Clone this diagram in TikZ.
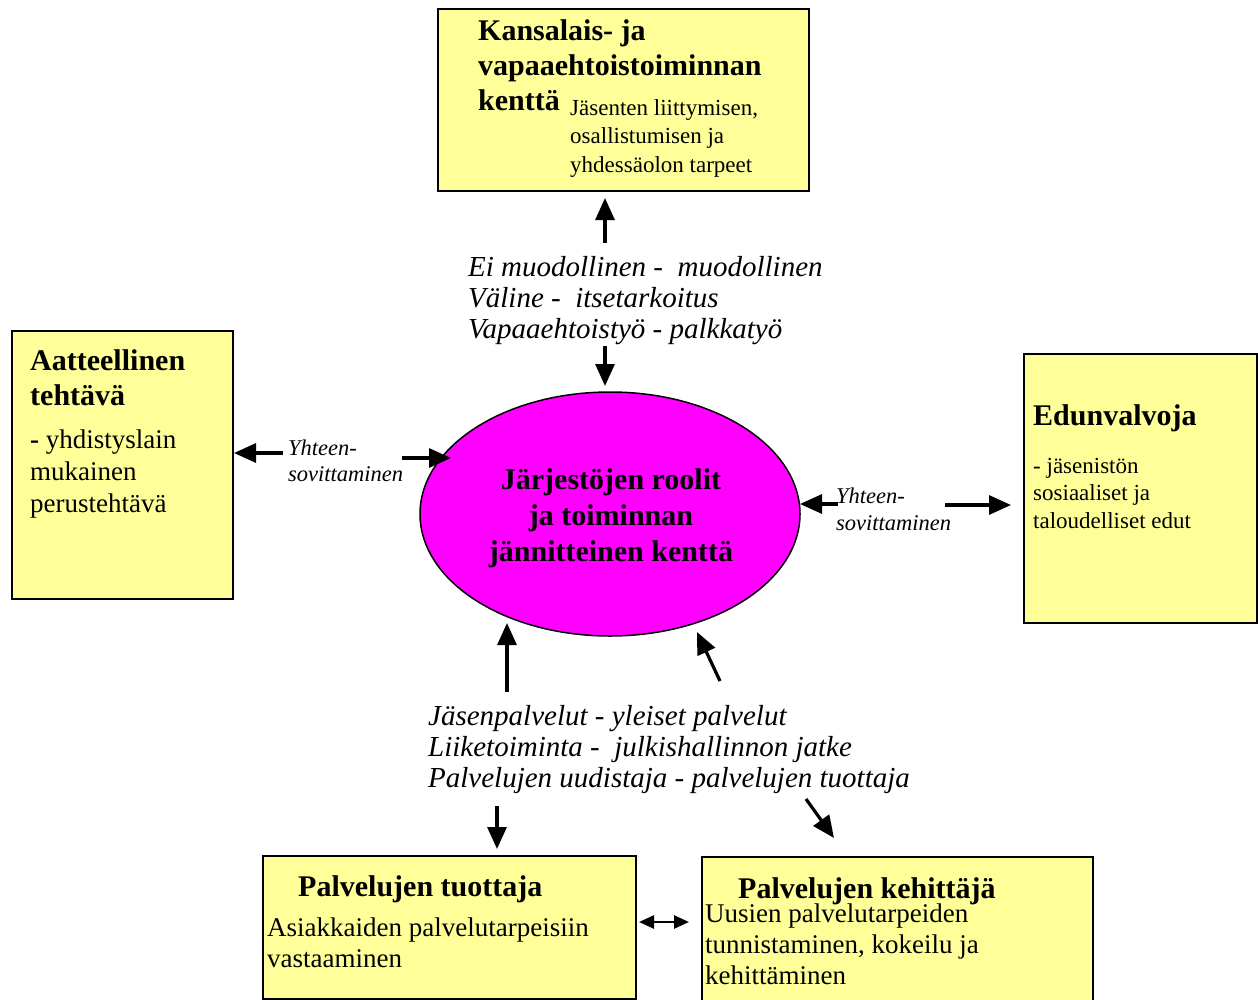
\documentclass[tikz,border=0pt]{standalone}
\usepackage{fontspec}
\setmainfont{Liberation Serif}
\usetikzlibrary{arrows.meta,shapes.geometric}
\definecolor{paleyellow}{HTML}{FFFF99}
\definecolor{hotmagenta}{HTML}{FF00FF}

\begin{document}
\begin{tikzpicture}[x=1pt,y=-1pt,
  panel/.style={draw=black,line width=1.6pt,fill=paleyellow,anchor=north west,inner sep=0pt},
  txt/.style={anchor=base west,inner sep=0pt,align=left},
  headline/.style={txt,font=\fontsize{30}{35}\selectfont\bfseries},
  flow/.style={line width=3.2pt,-{Triangle[length=22pt,width=19pt]}},
  swap/.style={line width=2.6pt,{Triangle[length=15pt,width=13pt]}-{Triangle[length=15pt,width=13pt]}}
]
\useasboundingbox (0,0) rectangle (1258,999);

% boxes
\node[panel,minimum width=371pt,minimum height=182pt] (civic) at (437,8) {};
\node[panel,minimum width=221pt,minimum height=268pt] (ideal) at (11,330) {};
\node[panel,minimum width=233pt,minimum height=269pt] (advocate) at (1023,353) {};
\node[panel,minimum width=373pt,minimum height=143pt] (producer) at (262,855) {};
\node[panel,minimum width=391pt,minimum height=150pt] (developer) at (701,856) {};

% central field (multi-line nodes are placed by the baseline of their last line)
\node[ellipse,draw=black,line width=1.5pt,fill=hotmagenta,minimum width=380pt,minimum height=244pt] (field) at (610,514) {};
\node[anchor=base,inner sep=0pt,align=center,font=\fontsize{30}{36}\selectfont\bfseries] (fieldtxt) at (611,561)
  {Järjestöjen roolit\\ja toiminnan\\jännitteinen kenttä};

% box texts
\node[headline] (civicT) at (478,110) {Kansalais- ja\\vapaaehtoistoiminnan\\kenttä};
\node[txt,font=\fontsize{23}{28.5}\selectfont] (civicB) at (570,172)
  {Jäsenten liittymisen,\\osallistumisen ja\\yhdessäolon tarpeet};

\node[headline] (idealT) at (30,405) {Aatteellinen\\tehtävä};
\node[txt,font=\fontsize{27}{32}\selectfont] (idealB) at (30,512)
  {{\bfseries -} yhdistyslain\\mukainen\\perustehtävä};

\node[headline] (advT) at (1033,425) {Edunvalvoja};
\node[txt,font=\fontsize{23}{27.5}\selectfont] (advB) at (1033,528)
  {- jäsenistön\\sosiaaliset ja\\taloudelliset edut};

\node[headline] (prodT) at (298,896) {Palvelujen tuottaja};
\node[txt,font=\fontsize{27}{31}\selectfont] (prodB) at (267,967)
  {Asiakkaiden palvelutarpeisiin\\vastaaminen};

\node[headline] (devT) at (738,898) {Palvelujen kehittäjä};
\node[txt,font=\fontsize{27}{31}\selectfont] (devB) at (705,984)
  {Uusien palvelutarpeiden\\tunnistaminen, kokeilu ja\\kehittäminen};

% tension labels
\node[txt,font=\fontsize{29}{31}\selectfont\itshape] (upper) at (468,338)
  {Ei muodollinen - \ muodollinen\\Väline - \ itsetarkoitus\\Vapaaehtoistyö - palkkatyö};
\node[txt,font=\fontsize{29}{31}\selectfont\itshape] (lower) at (428,787)
  {Jäsenpalvelut - yleiset palvelut\\Liiketoiminta - \ julkishallinnon jatke\\Palvelujen uudistaja - palvelujen tuottaja};
\node[txt,font=\fontsize{22.5}{26}\selectfont\itshape] (fitL) at (288,481) {Yhteen-\\sovittaminen};
\node[txt,font=\fontsize{22.5}{27}\selectfont\itshape] (fitR) at (836,530) {Yhteen-\\sovittaminen};

% arrow ends
\coordinate (a1s) at (605,243); \coordinate (a1t) at (605,198);
\coordinate (a2s) at (605,346); \coordinate (a2t) at (605,386);
\coordinate (a3s) at (283,453); \coordinate (a3t) at (234,453);
\coordinate (a4s) at (402,458); \coordinate (a4t) at (451,458);
\coordinate (a5s) at (838,504); \coordinate (a5t) at (800,504);
\coordinate (a6s) at (945,505); \coordinate (a6t) at (1011,505);
\coordinate (a7s) at (507,692); \coordinate (a7t) at (507,623);
\coordinate (a8s) at (720,681); \coordinate (a8t) at (697,632);
\coordinate (a9s) at (497,806); \coordinate (a9t) at (497,849);
\coordinate (a10s) at (806,799); \coordinate (a10t) at (834,838);
\coordinate (a11s) at (639,922); \coordinate (a11t) at (689,922);

\draw[flow] (a1s) -- (a1t);
\draw[flow] (a2s) -- (a2t);
\draw[flow] (a3s) -- (a3t);
\draw[flow] (a4s) -- (a4t);
\draw[flow] (a5s) -- (a5t);
\draw[flow] (a6s) -- (a6t);
\draw[flow] (a7s) -- (a7t);
\draw[flow] (a8s) -- (a8t);
\draw[flow] (a9s) -- (a9t);
\draw[flow] (a10s) -- (a10t);
\draw[swap] (a11s) -- (a11t);
\end{tikzpicture}
\end{document}
